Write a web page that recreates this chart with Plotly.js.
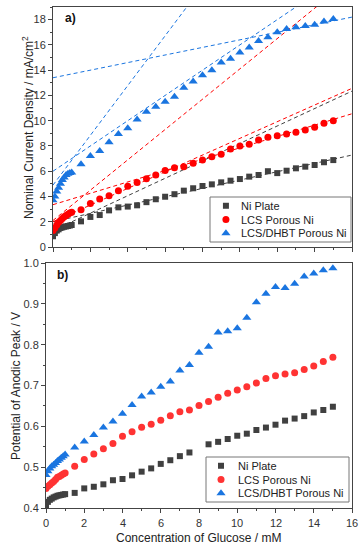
<!DOCTYPE html>
<html><head><meta charset="utf-8">
<script src="https://cdn.plot.ly/plotly-3.0.1.min.js"></script>
<style>html,body{margin:0;padding:0;background:#fff}#c{width:361px;height:550px}</style>
</head><body><div id="c"></div>
<script>
// Glucose concentration (mM)
const concX = [0,0.1,0.2,0.3,0.4,0.5,0.6,0.7,0.8,0.9,1.0,1.5,2,2.5,3,3.5,4,4.5,5,5.5,6,6.5,7,7.5,8,8.5,9,9.5,10,10.5,11,11.5,12,12.5,13,13.5,14,14.5,15];
// (a) Nominal current density, mA/cm2
const niPlateJ = [0.85,1.1,1.3,1.4,1.5,1.55,1.6,1.63,1.66,1.7,1.74,2.03,2.38,2.53,2.9,3.14,3.2,3.3,3.55,3.78,3.98,4.18,4.46,4.65,4.83,4.96,5.12,5.25,5.38,5.57,5.7,6.0,5.85,6.04,6.23,6.36,6.49,6.71,6.88];
const lcsJ = [1.3,1.5,1.75,1.95,2.1,2.25,2.4,2.5,2.6,2.7,2.75,2.95,3.45,3.8,4.05,4.45,4.8,5.1,5.4,5.7,6.05,6.28,6.36,6.63,6.89,7.15,7.34,7.76,8.0,8.13,8.47,8.68,8.81,8.95,9.08,9.26,9.48,9.79,10.0];
const dhbtJ = [3.7,4.0,4.4,4.7,5.0,5.3,5.5,5.7,5.8,5.85,5.9,6.55,7.2,7.6,8.3,8.95,9.4,10.1,10.7,11.1,11.5,11.9,12.6,13.1,13.6,14.0,14.6,14.9,15.4,15.8,16.3,16.6,17.0,17.25,17.4,17.5,17.6,17.85,18.05];
// (b) Potential of anodic peak, V
const niPlateE = [0.407,0.415,0.420,0.423,0.426,0.428,0.430,0.431,0.432,0.433,0.434,0.437,0.448,0.452,0.458,0.468,0.471,0.480,0.489,0.497,0.508,0.517,0.527,0.536,null,0.556,0.562,0.569,0.577,0.582,0.591,0.597,0.604,0.614,0.619,0.625,0.634,0.640,0.648];
const lcsE = [0.448,0.453,0.457,0.461,0.465,0.470,0.475,0.477,0.480,0.483,0.486,0.502,0.519,0.532,0.545,0.558,0.576,0.587,0.598,0.605,0.615,0.626,0.636,0.640,0.651,0.661,0.671,0.681,0.689,0.697,0.706,0.717,0.724,0.728,0.731,0.739,0.748,0.759,0.769];
const dhbtE = [0.481,0.490,0.497,0.502,0.506,0.510,0.515,0.519,0.523,0.527,0.531,0.548,0.563,0.579,0.597,0.612,0.631,0.652,0.673,0.683,0.697,0.710,0.737,0.750,0.780,0.795,0.830,0.833,0.840,0.866,0.904,0.925,0.941,0.939,0.949,0.967,0.974,0.982,0.987];
// linear fits in (a): intercepts and slopes
const niFitA = [1.3, 2.0];   const niFitB = [0.69, 0.33];
const lcsFitA = [2.1, 2.0, 3.35]; const lcsFitB = [1.2, 0.66, 0.45];
const dhbtFitA = [4.9, 6.0, 13.4]; const dhbtFitB = [1.97, 1.0, 0.30];
const fitX = [0, 16];
const xTicks = [0,2,4,6,8,10,12,14,16];
const names = ['Ni Plate','LCS Porous Ni','LCS/DHBT Porous Ni'];

const cGray = '#404040', cRed = '#ff0000', cRedB = '#ff3333', cBlue = '#1a75e0';
const FONT = 'Arial, "Liberation Sans", sans-serif';
const W=361, H=550;
const traces = [];
function fits(A, B, col){
  A.forEach((a,i)=>{
    traces.push({x: fitX, y: fitX.map(x=>a+B[i]*x), mode:'lines', xaxis:'x', yaxis:'y',
      line:{color:col, width:1, dash:'4px,3px'}, showlegend:false, hoverinfo:'skip'});
  });
}
fits(niFitA, niFitB, cGray);
fits(lcsFitA, lcsFitB, cRed);
fits(dhbtFitA, dhbtFitB, cBlue);
const specA = [[niPlateJ,cGray,'square',6],[lcsJ,cRed,'circle',7],[dhbtJ,cBlue,'triangle-up',8]];
specA.forEach((s,i)=>traces.push({x:concX, y:s[0], mode:'markers', name:names[i], xaxis:'x', yaxis:'y',
  marker:{color:s[1], symbol:s[2], size:s[3]}, showlegend:false}));
const specB = [[niPlateE,cGray,'square',6],[lcsE,cRedB,'circle',7],[dhbtE,cBlue,'triangle-up',8]];
specB.forEach((s,i)=>traces.push({x:concX, y:s[0], mode:'markers', name:names[i], xaxis:'x2', yaxis:'y2',
  marker:{color:s[1], symbol:s[2], size:s[3]}, showlegend:false}));

// custom compact legends drawn on hidden unit axes (x3/y3 top, x4/y4 bottom)
const annotations = [];
const shapes = [];
function legendBox(spec, xa, ya, keyX, textX, box){
  shapes.push({type:'rect', xref:'paper', yref:'paper', x0:box[0]/W, x1:box[1]/W, y0:1-box[3]/H, y1:1-box[2]/H,
    line:{color:'#777', width:1}, fillcolor:'#fff', layer:'below'});
  spec.forEach((s,i)=>{
    const yy = 0.5 + (1-i)*0.305;
    traces.push({x:[keyX], y:[yy], mode:'markers', xaxis:xa, yaxis:ya, showlegend:false, hoverinfo:'skip',
      marker:{color:s[1], symbol:s[2], size:s[3]}});
    annotations.push({text:names[i], x:textX, y:yy, xref:xa, yref:ya, showarrow:false, xanchor:'left', yanchor:'middle',
      font:{family:FONT, size:11, color:'#222'}});
  });
}
legendBox(specA, 'x3', 'y3', 0.113, 0.205, [210,351,197,242]);
legendBox(specB, 'x4', 'y4', 0.105, 0.21, [206,349,457,502]);

// bottom x tick labels placed on the x2 scale
xTicks.forEach(v=>annotations.push({text:String(v), x:v, xref:'x2', y:1-515/H, yref:'paper', showarrow:false,
  xanchor:'center', yanchor:'top', font:{family:FONT, size:11, color:'#333'}}));

const ax = {showline:true, mirror:true, linecolor:'#444', linewidth:1, ticks:'outside', ticklen:4, tickcolor:'#444',
  showgrid:false, zeroline:false, tickfont:{family:FONT, size:11, color:'#333'}};
const hid = {visible:false, range:[0,1], fixedrange:true};
const layout = {
  width:W, height:H, margin:{l:0,r:0,t:0,b:0}, paper_bgcolor:'#fff', plot_bgcolor:'rgba(0,0,0,0)',
  font:{family:FONT, color:'#222'}, showlegend:false,
  xaxis: Object.assign({}, ax, {domain:[53/W, 352/W], range:[0,16], dtick:2, showticklabels:false, anchor:'y',
     minor:{dtick:1, ticks:'outside', ticklen:2, tickcolor:'#444'}}),
  yaxis: Object.assign({}, ax, {domain:[1-247/H, 1-7/H], range:[0,19], dtick:2, anchor:'x',
     minor:{dtick:1, ticks:'outside', ticklen:2, tickcolor:'#444'}}),
  xaxis2: Object.assign({}, ax, {domain:[46/W, 352/W], range:[0,16], tickvals:xTicks, showticklabels:false, anchor:'y2',
     minor:{dtick:1, ticks:'outside', ticklen:2, tickcolor:'#444'}}),
  yaxis2: Object.assign({}, ax, {domain:[1-508/H, 1-263/H], range:[0.4,1.0], dtick:0.1, tickformat:'.1f', anchor:'x2',
     minor:{dtick:0.05, ticks:'outside', ticklen:2, tickcolor:'#444'}}),
  xaxis3: Object.assign({}, hid, {domain:[210/W, 351/W], anchor:'y3'}),
  yaxis3: Object.assign({}, hid, {domain:[1-242/H, 1-197/H], anchor:'x3'}),
  xaxis4: Object.assign({}, hid, {domain:[206/W, 349/W], anchor:'y4'}),
  yaxis4: Object.assign({}, hid, {domain:[1-502/H, 1-457/H], anchor:'x4'}),
  shapes: shapes,
  annotations: annotations.concat([
    {text:'<b>a)</b>', x:63/W, y:1-18/H, xref:'paper', yref:'paper', showarrow:false, xanchor:'left', yanchor:'middle', font:{family:FONT,size:12,color:'#111'}},
    {text:'<b>b)</b>', x:55/W, y:1-275/H, xref:'paper', yref:'paper', showarrow:false, xanchor:'left', yanchor:'middle', font:{family:FONT,size:12,color:'#111'}},
    {text:'Nominal Current Density / mA/cm<sup>2</sup>', x:28/W, y:1-128/H, xref:'paper', yref:'paper', showarrow:false, textangle:-90, xanchor:'center', yanchor:'middle', font:{family:FONT,size:12,color:'#222'}},
    {text:'Potential of Anodic Peak / V', x:16/W, y:1-386/H, xref:'paper', yref:'paper', showarrow:false, textangle:-90, xanchor:'center', yanchor:'middle', font:{family:FONT,size:12,color:'#222'}},
    {text:'Concentration of Glucose / mM', x:199/W, y:1-538/H, xref:'paper', yref:'paper', showarrow:false, xanchor:'center', yanchor:'middle', font:{family:FONT,size:12,color:'#222'}}
  ])
};
Plotly.newPlot('c', traces, layout, {staticPlot:true, displayModeBar:false});
</script></body></html>
